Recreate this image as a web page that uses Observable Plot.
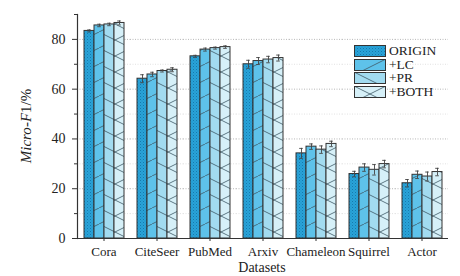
<!DOCTYPE html>
<html>
<head>
<meta charset="utf-8">
<script src="https://cdn.jsdelivr.net/npm/d3@7"></script>
<script src="https://cdn.jsdelivr.net/npm/@observablehq/plot@0.6"></script>
<style>
  html, body { margin: 0; padding: 0; background: white; }
  #wrap { position: relative; width: 460px; height: 276px; overflow: hidden; font-family: "Liberation Serif", serif; color: #222; }
  #wrap svg.plot { position: absolute; left: 0; top: 0; }
  .ylab { position: absolute; left: 26px; top: 126px; transform: translate(-50%, -50%) rotate(-90deg); font-size: 15px; white-space: nowrap; }
  .xlab { position: absolute; left: 262px; top: 261px; transform: translateX(-50%); font-size: 14px; line-height: 14px; white-space: nowrap; }
  .leg { position: absolute; left: 354px; height: 11px; font-size: 13.5px; line-height: 11px; white-space: nowrap; }
  .leg svg { position: absolute; left: 0; top: 0; }
  .leg span { position: absolute; left: 35px; top: 0px; }
</style>
</head>
<body>
<div id="wrap"></div>
<script>
const datasets = ["Cora", "CiteSeer", "PubMed", "Arxiv", "Chameleon", "Squirrel", "Actor"];
const methods = ["ORIGIN", "+LC", "+PR", "+BOTH"];
const origin = [83.4, 64.2, 73.2, 70.0, 34.2, 25.9, 22.2];
const lc     = [85.6, 65.9, 75.9, 71.3, 36.9, 28.5, 25.6];
const pr     = [86.0, 67.3, 76.5, 71.9, 35.7, 27.6, 24.9];
const both   = [86.6, 67.8, 76.9, 72.5, 38.0, 29.9, 26.7];
const errOrigin = [0.4, 1.6, 0.4, 1.6, 2.0, 1.1, 1.5];
const errLc     = [0.5, 0.9, 0.6, 1.4, 1.1, 1.5, 1.5];
const errPr     = [0.5, 0.4, 0.4, 1.3, 1.5, 2.1, 1.8];
const errBoth   = [0.8, 0.8, 0.5, 1.2, 1.1, 1.5, 1.5];
const yMajorTicks = [0, 20, 40, 60, 80];
const yMinorTicks = [10, 30, 50, 70, 90];

const values = [origin, lc, pr, both];
const errs = [errOrigin, errLc, errPr, errBoth];
const table = [];
datasets.forEach((d, i) => methods.forEach((m, k) => {
  table.push({dataset: d, method: m, k, value: values[k][i], err: errs[k][i]});
}));

const patIds = ["pat-origin", "pat-lc", "pat-pr", "pat-both"];
const ink = "#333";

const marks = [
  Plot.gridY(yMinorTicks.slice(0, 4), {stroke: "#e2e2e2", strokeOpacity: 1, strokeDasharray: "1,1.5"}),
  Plot.gridY(yMajorTicks.slice(1), {stroke: "#b8b8b8", strokeOpacity: 1, strokeDasharray: "1,1.5"}),
];
methods.forEach((m, k) => {
  marks.push(Plot.barY(table.filter(r => r.k === k), {
    fx: "dataset", x: "method", y: "value",
    fill: `url(#${patIds[k]})`, stroke: ink, strokeWidth: 1
  }));
});
marks.push(
  Plot.ruleX(table, {fx: "dataset", x: "method", y1: r => r.value - r.err, y2: r => r.value + r.err, stroke: "#444", strokeWidth: 0.9}),
  Plot.tickY(table, {fx: "dataset", x: "method", y: r => r.value + r.err, stroke: "#444", strokeWidth: 0.9, insetLeft: 3.2, insetRight: 3.2}),
  Plot.tickY(table, {fx: "dataset", x: "method", y: r => r.value - r.err, stroke: "#444", strokeWidth: 0.9, insetLeft: 3.2, insetRight: 3.2}),
  Plot.ruleY([0], {stroke: ink, strokeWidth: 1}),
  Plot.frame({anchor: "left", facetAnchor: "left", stroke: ink, strokeWidth: 1.2}),
  Plot.axisY({ticks: yMajorTicks, tickSize: 5, tickPadding: 7, stroke: ink, fontSize: 14, label: null}),
  Plot.axisY({ticks: yMinorTicks, tickSize: 3, text: null, stroke: ink, label: null}),
  Plot.axisFx({anchor: "bottom", tickSize: 3, tickPadding: 5, stroke: ink, fontSize: 13, label: null})
);

const svg = Plot.plot({
  width: 460, height: 276,
  marginLeft: 74, marginRight: 9, marginTop: 14, marginBottom: 38,
  style: {fontFamily: "'Liberation Serif', serif", fontSize: "13.5px", color: "#222", background: "white", overflow: "visible"},
  fx: {domain: datasets, padding: 0, label: null},
  x: {domain: methods, padding: 0, insetLeft: 5.4, insetRight: 5.4, axis: null},
  y: {domain: [0, 90], axis: null},
  marks
});
svg.classList.add("plot");

// patterns
const defs = d3.select(svg).insert("defs", ":first-child");
function pat(id, base, lines) {
  const p = defs.append("pattern").attr("id", id).attr("patternUnits", "userSpaceOnUse")
    .attr("width", lines === "dots" ? 3 : 32).attr("height", lines === "dots" ? 3 : 16);
  p.append("rect").attr("width", 40).attr("height", 40).attr("fill", base);
  if (lines === "dots") {
    p.append("rect").attr("x", 0).attr("y", 0).attr("width", 1).attr("height", 1).attr("fill", "#1679ad");
    p.append("rect").attr("x", 1.5).attr("y", 1.5).attr("width", 1).attr("height", 1).attr("fill", "#1c8cc2");
  } else {
    const st = {stroke: "#3d5866", "stroke-width": 0.8};
    const add = (x1, y1, x2, y2) => {
      const l = p.append("line").attr("x1", x1).attr("y1", y1).attr("x2", x2).attr("y2", y2);
      for (const k in st) l.attr(k, st[k]);
    };
    if (lines.includes("/")) { add(0, 16, 32, 0); add(-32, 16, 0, 0); add(32, 32, 64, 16); }
    if (lines.includes("\\")) { add(0, 0, 32, 16); add(-32, -16, 0, 0); add(32, 16, 64, 32); }
  }
}
pat(patIds[0], "#29a3d8", "dots");
pat(patIds[1], "#5ec2ea", "/");
pat(patIds[2], "#a2dbf0", "\\");
pat(patIds[3], "#d6f0f8", "/\\");

const wrap = document.getElementById("wrap");
wrap.appendChild(svg);

// legend
methods.forEach((m, k) => {
  const div = document.createElement("div");
  div.className = "leg";
  div.style.top = (45 + 13.7 * k) + "px";
  div.innerHTML = `<svg width="32" height="12"><rect x="0.5" y="0.5" width="31" height="11" fill="url(#${patIds[k]})" stroke="${ink}" stroke-width="1"/></svg><span>${m}</span>`;
  wrap.appendChild(div);
});

const yl = document.createElement("div");
yl.className = "ylab";
yl.innerHTML = "<i>Micro</i>-<i>F</i>1/%";
wrap.appendChild(yl);

const xl = document.createElement("div");
xl.className = "xlab";
xl.textContent = "Datasets";
wrap.appendChild(xl);
</script>
</body>
</html>
